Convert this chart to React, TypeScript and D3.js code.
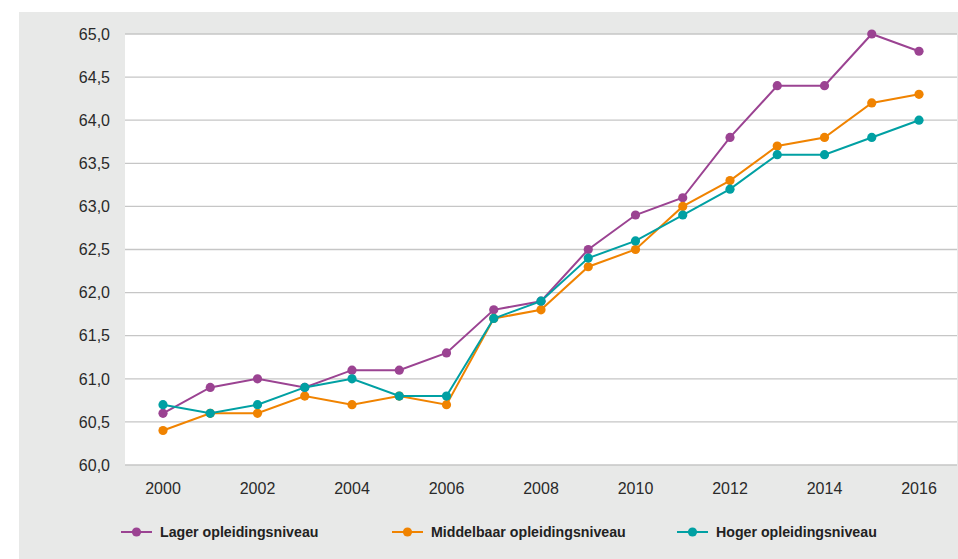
import React from "react";
import * as d3 from "d3";

const years = [2000, 2001, 2002, 2003, 2004, 2005, 2006, 2007, 2008, 2009, 2010, 2011, 2012, 2013, 2014, 2015, 2016];
const lager = [60.6, 60.9, 61.0, 60.9, 61.1, 61.1, 61.3, 61.8, 61.9, 62.5, 62.9, 63.1, 63.8, 64.4, 64.4, 65.0, 64.8];
const middelbaar = [60.4, 60.6, 60.6, 60.8, 60.7, 60.8, 60.7, 61.7, 61.8, 62.3, 62.5, 63.0, 63.3, 63.7, 63.8, 64.2, 64.3];
const hoger = [60.7, 60.6, 60.7, 60.9, 61.0, 60.8, 60.8, 61.7, 61.9, 62.4, 62.6, 62.9, 63.2, 63.6, 63.6, 63.8, 64.0];
const seriesNames = ["Lager opleidingsniveau", "Middelbaar opleidingsniveau", "Hoger opleidingsniveau"];
const seriesColors = ["#9b4392", "#f08300", "#00a0a3"];
const yTicks = [60.0, 60.5, 61.0, 61.5, 62.0, 62.5, 63.0, 63.5, 64.0, 64.5, 65.0];
const xTicks = [2000, 2002, 2004, 2006, 2008, 2010, 2012, 2014, 2016];

export default function App() {
  const W = 958, H = 559;
  const plotL = 125, plotR = 957, plotT = 34, plotB = 465;
  const x = d3.scaleLinear().domain([2000, 2016]).range([163, 919]);
  const y = d3.scaleLinear().domain([60, 65]).range([plotB, plotT]);
  const data = [lager, middelbaar, hoger];
  const line = d3.line<number>().x((_, i) => x(years[i])).y((v) => y(v));
  const fmt = (v: number) => v.toFixed(1).replace(".", ",");
  const legendX = [121, 392, 677];
  const legendY = 532;
  return (
    <svg width={W} height={H} style={{ position: "absolute", left: 0, top: 0 }}>
      <rect x={0} y={0} width={W} height={H} fill="#ffffff" />
      <rect x={19} y={12} width={W - 19} height={H - 12} fill="#e8e9e8" />
      <rect x={plotL} y={plotT} width={plotR - plotL} height={plotB - plotT} fill="#ffffff" />
      {yTicks.map((t) => (
        <g key={t}>
          <line x1={plotL} x2={plotR} y1={y(t)} y2={y(t)} stroke="#c6c6c6" strokeWidth={1.3} />
          <text x={110} y={y(t)} dy="0.36em" textAnchor="end" fontFamily="Liberation Sans, Arial, sans-serif" fontSize={16} fill="#2a2a2a">
            {fmt(t)}
          </text>
        </g>
      ))}
      {xTicks.map((t) => (
        <text key={t} x={x(t)} y={488} dy="0.36em" textAnchor="middle" fontFamily="Liberation Sans, Arial, sans-serif" fontSize={16} fill="#2a2a2a">
          {t}
        </text>
      ))}
      {data.map((s, si) => (
        <g key={si}>
          <path d={line(s) || ""} fill="none" stroke={seriesColors[si]} strokeWidth={2} />
          {s.map((v, i) => (
            <circle key={i} cx={x(years[i])} cy={y(v)} r={4.6} fill={seriesColors[si]} />
          ))}
        </g>
      ))}
      {seriesNames.map((n, i) => (
        <g key={n}>
          <line x1={legendX[i]} x2={legendX[i] + 31} y1={legendY} y2={legendY} stroke={seriesColors[i]} strokeWidth={2} />
          <circle cx={legendX[i] + 15.5} cy={legendY} r={4.6} fill={seriesColors[i]} />
          <text x={legendX[i] + 39} y={legendY} dy="0.36em" fontFamily="Liberation Sans, Arial, sans-serif" fontWeight="bold" fontSize={14.2} fill="#222">
            {n}
          </text>
        </g>
      ))}
    </svg>
  );
}
